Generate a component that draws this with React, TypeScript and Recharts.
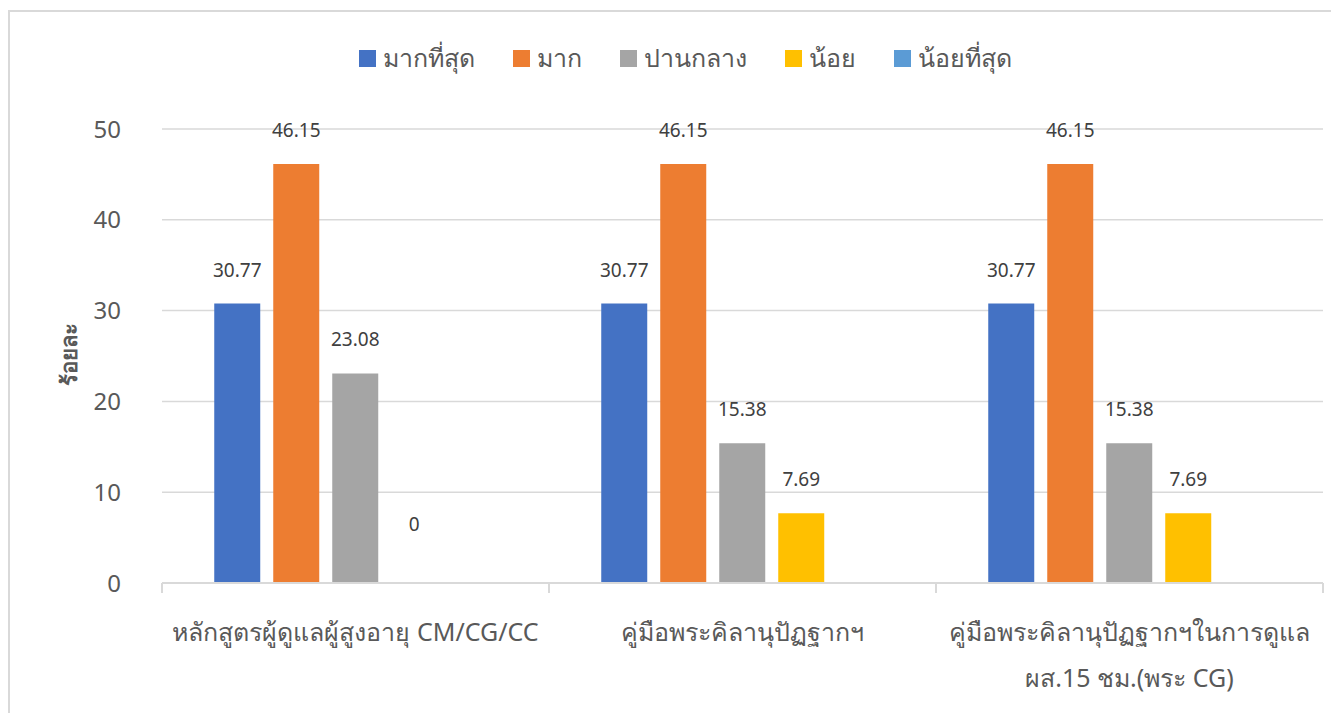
import React from "react";
import { BarChart, Bar, XAxis, YAxis, CartesianGrid, Legend, LabelList } from "recharts";

// categories and series values
const categories = [
  "หลักสูตรผู้ดูแลผู้สูงอายุ CM/CG/CC",
  "คู่มือพระคิลานุปัฏฐากฯ",
  "คู่มือพระคิลานุปัฏฐากฯในการดูแล\nผส.15 ชม.(พระ CG)",
];
const mostValues = [30.77, 30.77, 30.77];
const muchValues = [46.15, 46.15, 46.15];
const mediumValues = [23.08, 15.38, 15.38];
const littleValues = [0, 7.69, 7.69];
const leastValues: (number | null)[] = [null, null, null];

const seriesNames = ["มากที่สุด", "มาก", "ปานกลาง", "น้อย", "น้อยที่สุด"];
const seriesColors = ["#4472C4", "#ED7D31", "#A5A5A5", "#FFC000", "#5B9BD5"];
const yTicks = [0, 10, 20, 30, 40, 50];
const yLabel = "ร้อยละ";

const FONT = '"Noto Sans", Tahoma, sans-serif';
const TEXT = "#595959";
const GRID = "#d9d9d9";

const data = categories.map((name, i) => ({
  name,
  s0: mostValues[i],
  s1: muchValues[i],
  s2: mediumValues[i],
  s3: littleValues[i],
  s4: leastValues[i],
}));

function CategoryTick(props: any) {
  const { x, y, payload, index } = props;
  const half = payload.offset ?? 193.5;
  const lines = String(payload.value).split("\n");
  return (
    <g>
      <line x1={x - half} x2={x - half} y1={y} y2={y + 10} stroke={GRID} strokeWidth={2} />
      {index === categories.length - 1 && (
        <line x1={x + half} x2={x + half} y1={y} y2={y + 10} stroke={GRID} strokeWidth={2} />
      )}
      <text x={x} y={y + 58} textAnchor="middle" fill={TEXT} fontSize={25} fontFamily={FONT}>
        {lines.map((l, k) => (
          <tspan key={k} x={x} dy={k === 0 ? 0 : 46}>
            {l}
          </tspan>
        ))}
      </text>
    </g>
  );
}

function ValueLabel(props: any) {
  const { x, y, width, value } = props;
  if (value === null || value === undefined) return null;
  const lift = value === 0 ? 52 : 27;
  return (
    <text x={x + width / 2} y={y - lift} textAnchor="middle" fill="#404040" fontSize={19} fontFamily={FONT}>
      {value}
    </text>
  );
}

function YTitle(props: any) {
  const { viewBox } = props;
  const cx = 58;
  const cy = viewBox.y + viewBox.height / 2 - 2;
  return (
    <text
      x={cx}
      y={cy}
      transform={`rotate(-90, ${cx}, ${cy})`}
      textAnchor="middle"
      dominantBaseline="central"
      fill={TEXT}
      fontSize={22}
      fontWeight="bold"
      fontFamily={FONT}
    >
      {yLabel}
    </text>
  );
}

function LegendRow() {
  return (
    <div style={{ display: "flex", justifyContent: "center", alignItems: "center", fontFamily: FONT, paddingLeft: 22 }}>
      {seriesNames.map((n, i) => (
        <div key={n} style={{ display: "flex", alignItems: "center", marginRight: i < seriesNames.length - 1 ? 38 : 0 }}>
          <span style={{ width: 17, height: 17, background: seriesColors[i], marginRight: 7, display: "inline-block" }} />
          <span style={{ color: TEXT, fontSize: 25 }}>{n}</span>
        </div>
      ))}
    </div>
  );
}

export default function App() {
  return (
    <div
      style={{
        marginTop: 2,
        width: 1331,
        height: 703,
        borderLeft: `2px solid ${GRID}`,
        borderTop: `2px solid ${GRID}`,
        boxSizing: "border-box",
        overflow: "hidden",
      }}
    >
      <BarChart
        width={1329}
        height={701}
        data={data}
        margin={{ top: 117, right: 16, bottom: 10, left: 0 }}
        barCategoryGap="13.5%"
        barGap={13}
      >
        <CartesianGrid vertical={false} stroke={GRID} strokeWidth={1.5} />
        <XAxis
          dataKey="name"
          height={120}
          axisLine={{ stroke: GRID, strokeWidth: 2 }}
          tickLine={false}
          tickSize={0}
          tickMargin={0}
          interval={0}
          tick={<CategoryTick />}
        />
        <YAxis
          width={152}
          domain={[0, 50]}
          ticks={yTicks}
          axisLine={false}
          tickLine={false}
          tickMargin={35}
          tick={{ fill: TEXT, fontSize: 24, fontFamily: FONT }}
          label={<YTitle />}
        />
        <Legend
          layout="horizontal"
          verticalAlign="middle"
          align="center"
          wrapperStyle={{ top: 26, left: 0, width: 1329 }}
          content={<LegendRow />}
        />
        {seriesNames.map((n, i) => (
          <Bar key={n} dataKey={`s${i}`} name={n} fill={seriesColors[i]} minPointSize={0.01} isAnimationActive={false}>
            <LabelList dataKey={`s${i}`} content={<ValueLabel />} />
          </Bar>
        ))}
      </BarChart>
    </div>
  );
}
